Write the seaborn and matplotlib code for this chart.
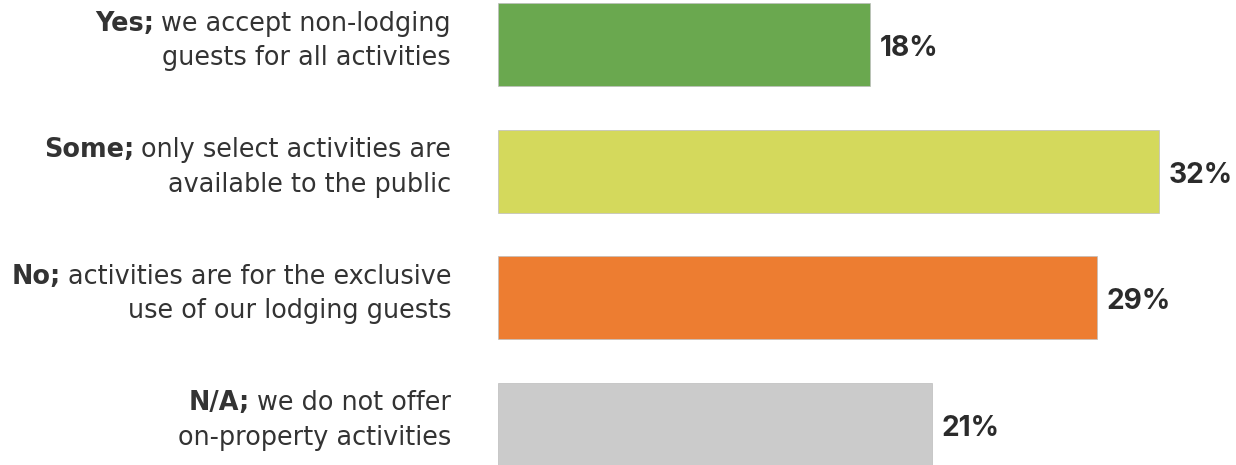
import matplotlib
matplotlib.use("Agg")
import matplotlib.pyplot as plt
import seaborn as sns
import pandas as pd

# Survey answers: bold lead word + explanation (two lines each)
lead_words = ["Yes;", "Some;", "No;", "N/A;"]
line_one = ["we accept non-lodging", "only select activities are",
            "activities are for the exclusive", "we do not offer"]
line_two = ["guests for all activities", "available to the public",
            "use of our lodging guests", "on-property activities"]
shares = [18, 32, 29, 21]
bar_colors = ["#6aa84f", "#d4d95c", "#ed7d31", "#cbcbcb"]

sns.set_theme(style="white")
LABEL_FONT = ["DejaVu Sans"]
VALUE_FONT = ["Inter", "DejaVu Sans"]
plt.rcParams["font.family"] = LABEL_FONT

DPI = 100
PT = 72 / DPI  # pixels -> points
df = pd.DataFrame({"answer": lead_words, "share": shares})

fig = plt.figure(figsize=(12.36, 4.65), dpi=DPI)
ax = fig.add_axes([498 / 1236, 0, 1 - 498 / 1236, 1])

sns.barplot(data=df, y="answer", x="share", hue="answer", palette=bar_colors,
            orient="h", width=0.656, legend=False, ax=ax, saturation=1,
            edgecolor="#bdbdbd", linewidth=0.5)

ax.set_xlim(0, 35.74)
ax.set_ylim(3.324, -0.352)
ax.set_xlabel("")
ax.set_ylabel("")
ax.set_xticks([])
ax.set_yticks(range(len(lead_words)))
ax.set_yticklabels([])
ax.tick_params(axis="y", length=0)
for s in ax.spines.values():
    s.set_visible(False)

# Category labels to the left of the bars: bold lead word, regular rest
renderer = fig.canvas.get_renderer()
label_kw = dict(xycoords=("axes fraction", "data"), textcoords="offset points",
                ha="right", va="baseline", fontsize=18.4, color="#333333")
right_px = -47   # gap between label block and bar start
for i, (w, a, b) in enumerate(zip(lead_words, line_one, line_two)):
    t1 = ax.annotate(a, xy=(0, i), xytext=(right_px * PT, 14 * PT), **label_kw)
    ax.annotate(b, xy=(0, i), xytext=(right_px * PT, -20.5 * PT), **label_kw)
    w1 = t1.get_window_extent(renderer).width
    ax.annotate(w, xy=(0, i), xytext=((right_px - w1 - 7) * PT, 14 * PT),
                fontweight="bold", **label_kw)

# Value labels at the bar ends
for i, v in enumerate(shares):
    ax.annotate(f"{v}%", xy=(v, i), xytext=(10 * PT, -11.5 * PT),
                textcoords="offset points", ha="left", va="baseline",
                fontsize=20.2, fontweight="bold", color="#2b2b2b",
                family=VALUE_FONT)

fig.savefig("out.png", dpi=DPI)
